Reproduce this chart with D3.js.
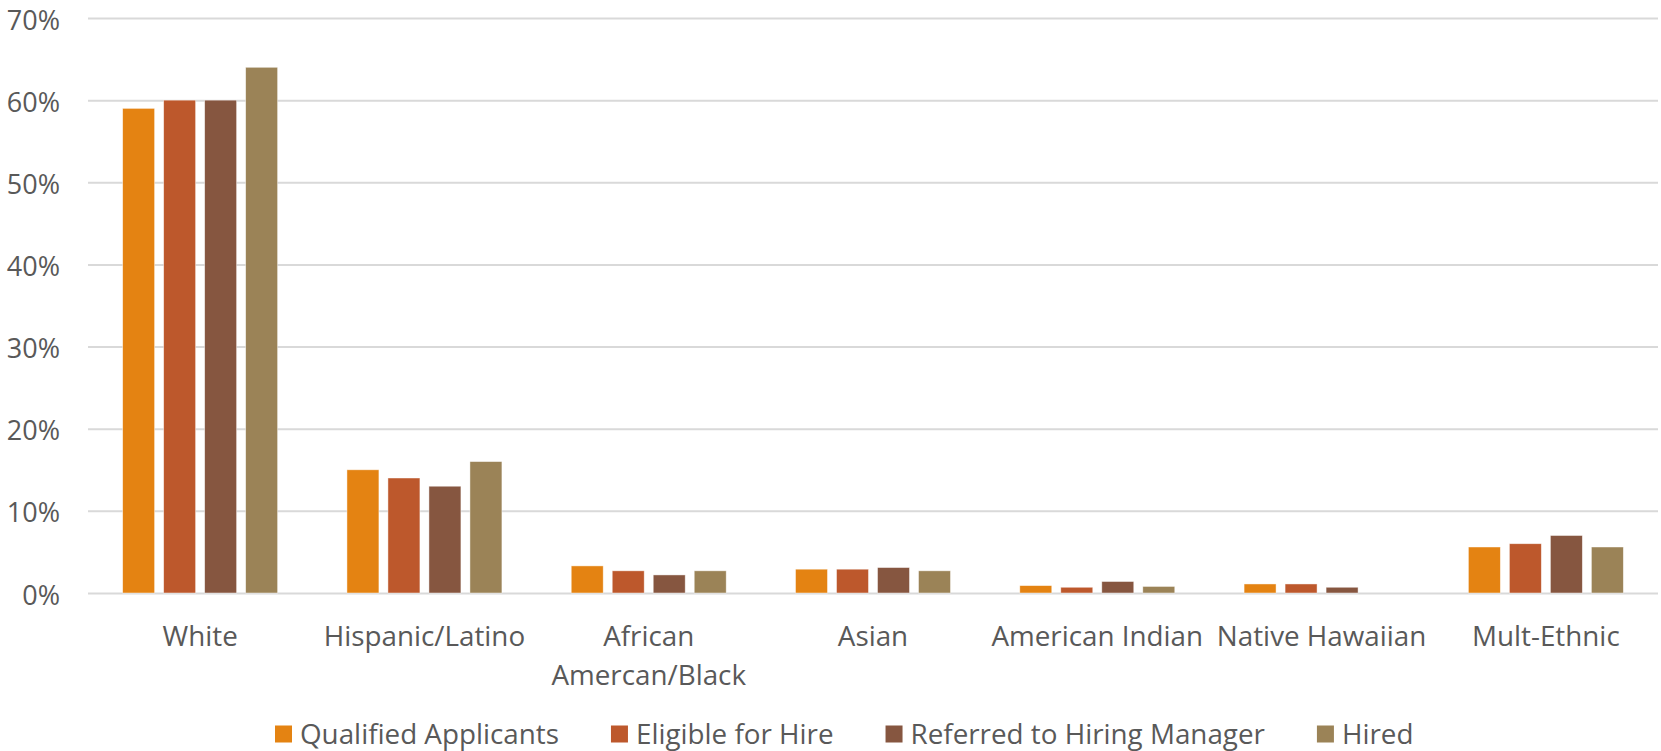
<!DOCTYPE html>
<html>
<head>
<meta charset="utf-8">
<script src="https://cdn.jsdelivr.net/npm/d3@7"></script>
<style>
  html, body { margin: 0; padding: 0; background: #fff; }
  svg { display: block; }
  text { font-family: "Open Sans", "Liberation Sans", sans-serif; fill: #595959; }
</style>
</head>
<body>
<svg id="chart" width="1661" height="751"></svg>
<script>
// ---- Data ----
const categories = ["White", "Hispanic/Latino", "African Amercan/Black", "Asian", "American Indian", "Native Hawaiian", "Mult-Ethnic"];
const categoryLines = [["White"], ["Hispanic/Latino"], ["African", "Amercan/Black"], ["Asian"], ["American Indian"], ["Native Hawaiian"], ["Mult-Ethnic"]];
const seriesNames = ["Qualified Applicants", "Eligible for Hire", "Referred to Hiring Manager", "Hired"];
const qualifiedApplicants = [59, 15, 3.3, 2.9, 0.9, 1.1, 5.6];
const eligibleForHire     = [60, 14, 2.7, 2.9, 0.7, 1.1, 6.0];
const referredToManager   = [60, 13, 2.2, 3.1, 1.4, 0.7, 7.0];
const hired               = [64, 16, 2.7, 2.7, 0.8, 0,   5.6];
const seriesValues = [qualifiedApplicants, eligibleForHire, referredToManager, hired];
const seriesColors = ["#E48312", "#BD582C", "#865640", "#9B8357"];
const yTicks = [0, 10, 20, 30, 40, 50, 60, 70];

// ---- Layout ----
const svg = d3.select("#chart");
const plotLeft = 88, plotRight = 1658, plotTop = 18, plotBottom = 593;
const fontSize = 27.8;
const axisFontSize = 27;

const x0 = d3.scaleBand().domain(categories).range([plotLeft, plotRight]).paddingInner(0).paddingOuter(0);
const x1 = d3.scaleBand().domain(seriesNames).range([0, 164]).paddingInner(0.22).paddingOuter(0.11);
const y = d3.scaleLinear().domain([0, 70]).range([plotBottom, plotTop]);

// gridlines
const yAxis = d3.axisLeft(y).tickValues(yTicks).tickSize(-(plotRight - plotLeft)).tickFormat(d => d + "%").tickPadding(28);
const gAxis = svg.append("g").attr("transform", `translate(${plotLeft},0)`).call(yAxis);
gAxis.select(".domain").remove();
gAxis.selectAll(".tick line").attr("stroke", "#D9D9D9").attr("stroke-width", 2);
gAxis.selectAll(".tick text").attr("font-size", axisFontSize).attr("fill", "#595959")
  .attr("dy", "0.41em")
  .style("font-family", '"Open Sans", sans-serif');

// bars
const groups = svg.append("g").selectAll("g")
  .data(categories)
  .join("g")
  .attr("transform", d => `translate(${x0(d) + x0.bandwidth() / 2 - 82},0)`);

groups.selectAll("rect")
  .data((d, i) => seriesNames.map((s, j) => ({ s, j, v: seriesValues[j][i] })))
  .join("rect")
  .filter(d => d.v > 0)
  .attr("x", d => x1(d.s))
  .attr("width", x1.bandwidth())
  .attr("y", d => y(d.v))
  .attr("height", d => y(0) - y(d.v))
  .attr("fill", d => seriesColors[d.j])
  .attr("stroke", "#ffffff")
  .attr("stroke-opacity", 0.6)
  .attr("stroke-width", 0.75);

// category labels
const catLabels = svg.append("g").selectAll("text")
  .data(categories)
  .join("text")
  .attr("text-anchor", "middle")
  .attr("font-size", fontSize)
  .attr("x", d => x0(d) + x0.bandwidth() / 2)
  .attr("y", 636);
catLabels.each(function (d, i) {
  const t = d3.select(this);
  categoryLines[i].forEach((line, k) => {
    t.append("tspan")
      .attr("x", x0(d) + x0.bandwidth() / 2)
      .attr("dy", k === 0 ? "0.35em" : "1.4em")
      .text(line);
  });
});

// legend
const legend = svg.append("g");
let lx = 275;
const ly = 734;
seriesNames.forEach((name, j) => {
  legend.append("rect")
    .attr("x", lx).attr("y", ly - 8.5)
    .attr("width", 17).attr("height", 17)
    .attr("fill", seriesColors[j]);
  const t = legend.append("text")
    .attr("x", lx + 25).attr("y", ly)
    .attr("dy", "0.35em")
    .attr("font-size", fontSize)
    .text(name);
  const w = t.node().getComputedTextLength();
  lx = lx + 25 + w + 52;
});
</script>
</body>
</html>
